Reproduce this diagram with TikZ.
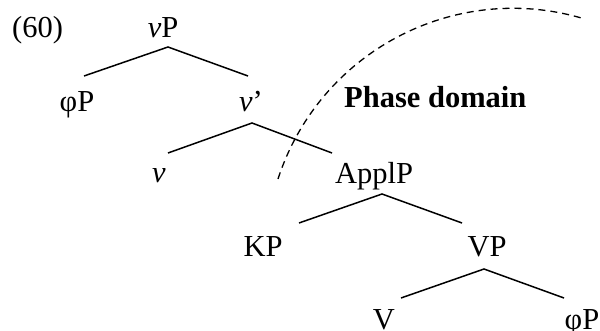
\documentclass[tikz,border=0pt]{standalone}
\usepackage{fontspec}
\setmainfont{Liberation Serif}
\begin{document}
\begin{tikzpicture}[x=1pt,y=-1pt,
  lab/.style={inner sep=0pt,anchor=base,font=\fontsize{30.5}{36}\selectfont},
  branch/.style={line width=1.5pt},
  phase/.style={line width=1.3pt,dash pattern=on 7pt off 5pt}]
\path[use as bounding box,fill=white] (0,0) rectangle (600,331);
% labels
\node[lab,anchor=base west] (ex) at (12,38) {(60)};
\node[lab] (vP) at (163,38) {\textit{v}P};
\node[lab] (phiP1) at (77,112) {φP};
\node[lab] (vbar) at (251,112) {\textit{v}’};
\node[lab] (v) at (159,183) {\textit{v}};
\node[lab] (ApplP) at (374,184) {ApplP};
\node[lab] (KP) at (263,257) {KP};
\node[lab] (VP) at (487,257) {VP};
\node[lab] (V) at (384,329) {V};
\node[lab] (phiP2) at (582,329) {φP};
\node[lab,anchor=base west] (pd) at (344,108) {\bfseries Phase domain};
% branch points
\coordinate (vP-a) at (168,47);   \coordinate (vP-l) at (84,76);   \coordinate (vP-r) at (248,76);
\coordinate (vb-a) at (252,123);  \coordinate (vb-l) at (168,153); \coordinate (vb-r) at (332,153);
\coordinate (Ap-a) at (382,194);  \coordinate (Ap-l) at (299,223); \coordinate (Ap-r) at (462,223);
\coordinate (VP-a) at (484,269);  \coordinate (VP-l) at (401,298); \coordinate (VP-r) at (564,298);
\draw[branch] (vP-l) -- (vP-a) -- (vP-r);
\draw[branch] (vb-l) -- (vb-a) -- (vb-r);
\draw[branch] (Ap-l) -- (Ap-a) -- (Ap-r);
\draw[branch] (VP-l) -- (VP-a) -- (VP-r);
% phase boundary
\coordinate (arcstart) at (278,179);
\draw[phase] (arcstart) arc[start angle=-162, end angle=-74, radius=247];
\end{tikzpicture}
\end{document}
